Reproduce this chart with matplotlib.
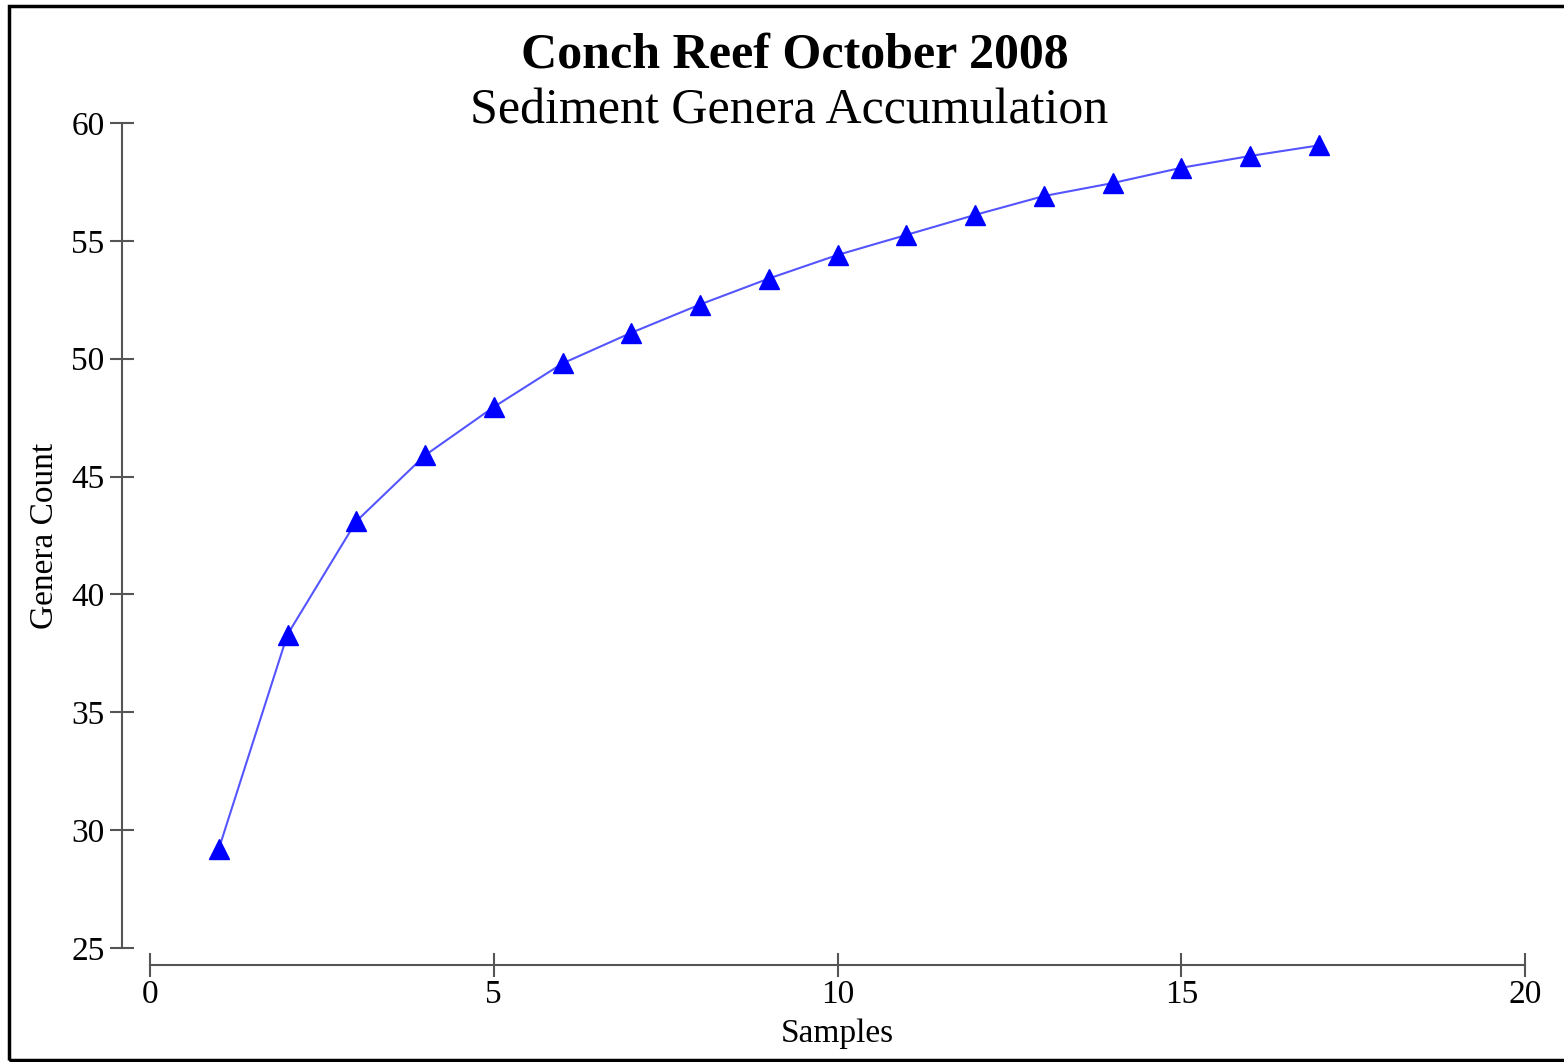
import matplotlib
matplotlib.use("Agg")
import matplotlib.pyplot as plt
from matplotlib.patches import Rectangle

samples = [1, 2, 3, 4, 5, 6, 7, 8, 9, 10, 11, 12, 13, 14, 15, 16, 17]
genera = [29.2, 38.3, 43.1, 45.9, 47.95, 49.8, 51.1, 52.3, 53.4, 54.4,
          55.25, 56.1, 56.9, 57.45, 58.1, 58.6, 59.05]
xticks = [0, 5, 10, 15, 20]
yticks = [25, 30, 35, 40, 45, 50, 55, 60]

plt.rcParams['font.family'] = ['Liberation Serif', 'DejaVu Serif']

W, H = 1564, 1062
fig = plt.figure(figsize=(W / 100, H / 100), dpi=100)
ax = fig.add_axes([150 / W, 1 - 948 / H, (1525 - 150) / W, (948 - 123) / H])

ax.plot(samples, genera, color='#5555ff', lw=1.5, zorder=2)
ax.plot(samples, genera, ls='none', marker='^', ms=15, color='#0000ff', zorder=3)

ax.set_xlim(0, 20)
ax.set_ylim(25, 60)
ax.set_xticks(xticks)
ax.set_yticks(yticks)

axis_col = '#555555'
for side in ['top', 'right']:
    ax.spines[side].set_visible(False)
ax.spines['left'].set_position(('outward', 28 * 0.72))
ax.spines['bottom'].set_position(('outward', 17 * 0.72))
for side in ['left', 'bottom']:
    ax.spines[side].set_color(axis_col)
    ax.spines[side].set_linewidth(1.5)
ax.tick_params(direction='inout', length=17, width=1.5, color=axis_col,
               labelsize=24, pad=2, labelcolor='black')
ax.tick_params(axis='y', pad=4)

ax.set_xlabel('Samples', fontsize=24, labelpad=6)
ax.set_ylabel('Genera Count', fontsize=24, labelpad=8)

fig.text(795 / W, 1 - 55 / H, 'Conch Reef October 2008', ha='center', va='center',
         fontsize=36, fontweight='bold')
fig.text(789 / W, 1 - 111 / H, 'Sediment Genera Accumulation', ha='center', va='center',
         fontsize=36)

fig.patches.append(Rectangle((9 / W, 2 / H), 1.2, 1 - 8 / H, transform=fig.transFigure,
                             fill=False, edgecolor='black', lw=2.5))

fig.savefig('out.png', dpi=100, facecolor='white')
